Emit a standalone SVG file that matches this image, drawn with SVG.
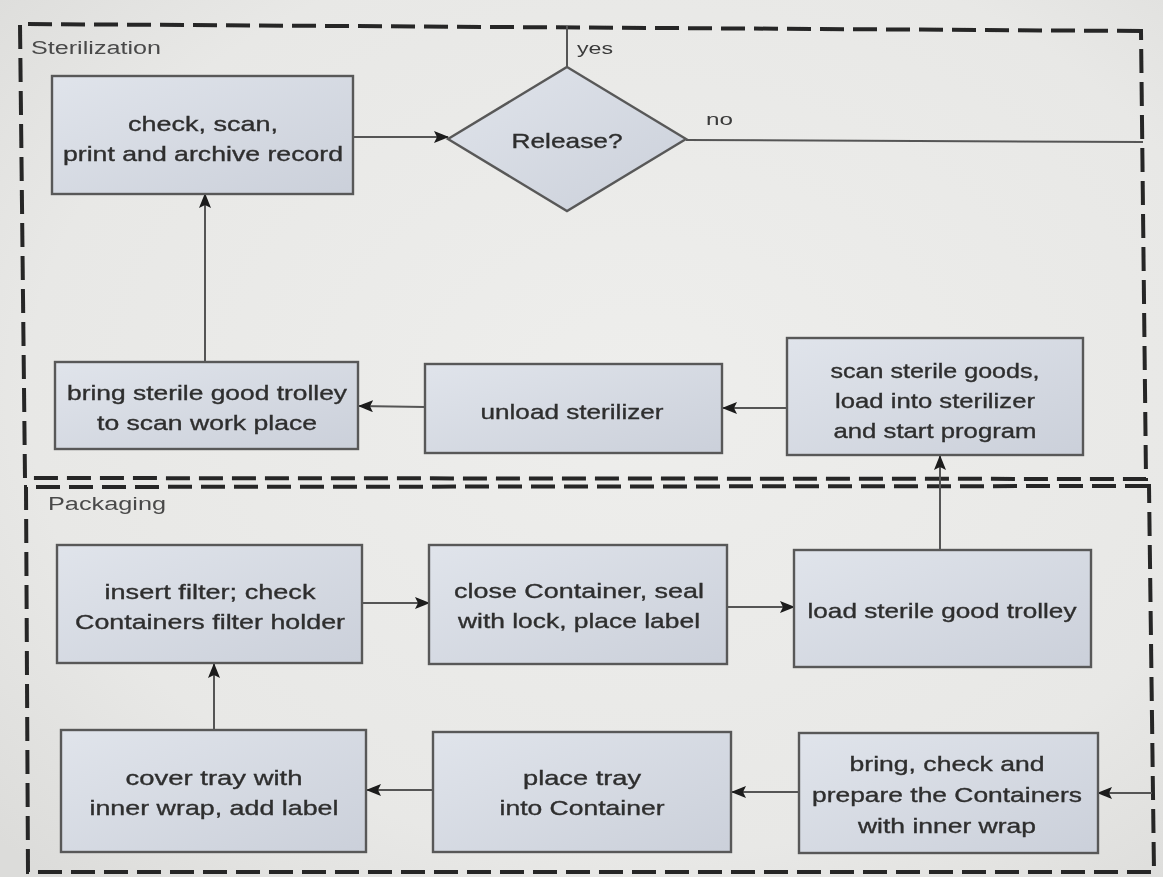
<svg xmlns="http://www.w3.org/2000/svg" width="1163" height="877" viewBox="0 0 1163 877">
  <defs>
    <radialGradient id="bg" cx="0.55" cy="0.45" r="0.75">
      <stop offset="0" stop-color="#eeeeec"/>
      <stop offset="0.7" stop-color="#e8e8e6"/>
      <stop offset="1" stop-color="#dcdcda"/>
    </radialGradient>
    <linearGradient id="boxFill" x1="0" y1="0" x2="1" y2="1">
      <stop offset="0" stop-color="#e0e4eb"/>
      <stop offset="1" stop-color="#cbd0da"/>
    </linearGradient>
    <marker id="arrow" viewBox="0 0 15 12" refX="14" refY="6" markerWidth="15" markerHeight="12" markerUnits="userSpaceOnUse" orient="auto">
      <path d="M0,0 L15,6 L0,12 L3,6 Z" fill="#1a1a1a"/>
    </marker>
    <filter id="soft" x="-2%" y="-2%" width="104%" height="104%">
      <feGaussianBlur stdDeviation="0.55"/>
    </filter>
  </defs>
  <style>
    .node rect, .node polygon { fill: url(#boxFill); stroke: #595959; stroke-width: 2.4; }
    .node text { font-family: "Liberation Sans", Arial, sans-serif; font-size: 21px; fill: #2e2e2e; stroke: #2e2e2e; stroke-width: 0.35; text-anchor: middle; }
    .lane { fill: none; stroke: #262626; stroke-width: 4; stroke-dasharray: 24 9; }
    .lane-label { font-family: "Liberation Sans", Arial, sans-serif; font-size: 18px; fill: #4a4a4a; }
    .edge { fill: none; stroke: #555; stroke-width: 2; }
    .edge-arrow { marker-end: url(#arrow); }
    .edge-label { font-family: "Liberation Sans", Arial, sans-serif; font-size: 17px; fill: #3a3a3a; }
  </style>

  <rect x="0" y="0" width="1163" height="877" fill="url(#bg)"/>

  <g filter="url(#soft)">
    <!-- swimlanes -->
    <g id="lane-sterilization">
      <path class="lane" d="M1141,31 L20,24 L25,478 L1146,479 Z"/>
      <text class="lane-label" x="31" y="54" textLength="130" lengthAdjust="spacingAndGlyphs">Sterilization</text>
    </g>
    <g id="lane-packaging">
      <path class="lane" d="M1149,486 L26,487 L28,872 L1154,872 Z"/>
      <text class="lane-label" x="48" y="510" textLength="118" lengthAdjust="spacingAndGlyphs">Packaging</text>
    </g>

    <!-- connectors -->
    <g id="connectors">
      <path class="edge edge-arrow" d="M353,137 L448,137"/>
      <path class="edge" d="M567,67 L567,26"/>
      <path class="edge" d="M686,140 L1143,142"/>
      <path class="edge edge-arrow" d="M205,362 L205,194"/>
      <path class="edge edge-arrow" d="M425,407 L359,406"/>
      <path class="edge edge-arrow" d="M787,408 L723,408"/>
      <path class="edge edge-arrow" d="M940,550 L940,456"/>
      <path class="edge edge-arrow" d="M362,603 L429,603"/>
      <path class="edge edge-arrow" d="M727,607 L794,607"/>
      <path class="edge edge-arrow" d="M214,730 L214,664"/>
      <path class="edge edge-arrow" d="M433,790 L367,790"/>
      <path class="edge edge-arrow" d="M799,792 L732,792"/>
      <path class="edge edge-arrow" d="M1152,793 L1098,793"/>
      <text class="edge-label" x="577" y="54" textLength="36" lengthAdjust="spacingAndGlyphs">yes</text>
      <text class="edge-label" x="706" y="125" textLength="27" lengthAdjust="spacingAndGlyphs">no</text>
    </g>

    <!-- nodes -->
    <g id="node-check" class="node">
      <rect x="52" y="76" width="301" height="118"/>
      <text x="203" y="131" textLength="150" lengthAdjust="spacingAndGlyphs">check, scan,</text>
      <text x="203" y="161" textLength="280" lengthAdjust="spacingAndGlyphs">print and archive record</text>
    </g>
    <g id="node-release" class="node">
      <polygon points="567,67 686,139 567,211 448,139"/>
      <text x="567" y="148" textLength="111" lengthAdjust="spacingAndGlyphs">Release?</text>
    </g>
    <g id="node-bring-trolley" class="node">
      <rect x="55" y="362" width="303" height="87"/>
      <text x="207" y="400" textLength="280" lengthAdjust="spacingAndGlyphs">bring sterile good trolley</text>
      <text x="207" y="430" textLength="220" lengthAdjust="spacingAndGlyphs">to scan work place</text>
    </g>
    <g id="node-unload" class="node">
      <rect x="425" y="364" width="297" height="89"/>
      <text x="572" y="419" textLength="183" lengthAdjust="spacingAndGlyphs">unload sterilizer</text>
    </g>
    <g id="node-scan-load" class="node">
      <rect x="787" y="338" width="296" height="117"/>
      <text x="935" y="378" textLength="209" lengthAdjust="spacingAndGlyphs">scan sterile goods,</text>
      <text x="935" y="408" textLength="200" lengthAdjust="spacingAndGlyphs">load into sterilizer</text>
      <text x="935" y="438" textLength="203" lengthAdjust="spacingAndGlyphs">and start program</text>
    </g>
    <g id="node-insert-filter" class="node">
      <rect x="57" y="545" width="305" height="118"/>
      <text x="210" y="599" textLength="211" lengthAdjust="spacingAndGlyphs">insert filter; check</text>
      <text x="210" y="629" textLength="270" lengthAdjust="spacingAndGlyphs">Containers filter holder</text>
    </g>
    <g id="node-close-container" class="node">
      <rect x="429" y="545" width="298" height="119"/>
      <text x="579" y="598" textLength="250" lengthAdjust="spacingAndGlyphs">close Container, seal</text>
      <text x="579" y="628" textLength="242" lengthAdjust="spacingAndGlyphs">with lock, place label</text>
    </g>
    <g id="node-load-trolley" class="node">
      <rect x="794" y="550" width="297" height="117"/>
      <text x="942" y="618" textLength="269" lengthAdjust="spacingAndGlyphs">load sterile good trolley</text>
    </g>
    <g id="node-cover-tray" class="node">
      <rect x="61" y="730" width="305" height="122"/>
      <text x="214" y="785" textLength="177" lengthAdjust="spacingAndGlyphs">cover tray with</text>
      <text x="214" y="815" textLength="249" lengthAdjust="spacingAndGlyphs">inner wrap, add label</text>
    </g>
    <g id="node-place-tray" class="node">
      <rect x="433" y="732" width="298" height="120"/>
      <text x="582" y="785" textLength="118" lengthAdjust="spacingAndGlyphs">place tray</text>
      <text x="582" y="815" textLength="165" lengthAdjust="spacingAndGlyphs">into Container</text>
    </g>
    <g id="node-prepare-containers" class="node">
      <rect x="799" y="733" width="299" height="120"/>
      <text x="947" y="771" textLength="195" lengthAdjust="spacingAndGlyphs">bring, check and</text>
      <text x="947" y="802" textLength="270" lengthAdjust="spacingAndGlyphs">prepare the Containers</text>
      <text x="947" y="833" textLength="178" lengthAdjust="spacingAndGlyphs">with inner wrap</text>
    </g>
  </g>
</svg>
